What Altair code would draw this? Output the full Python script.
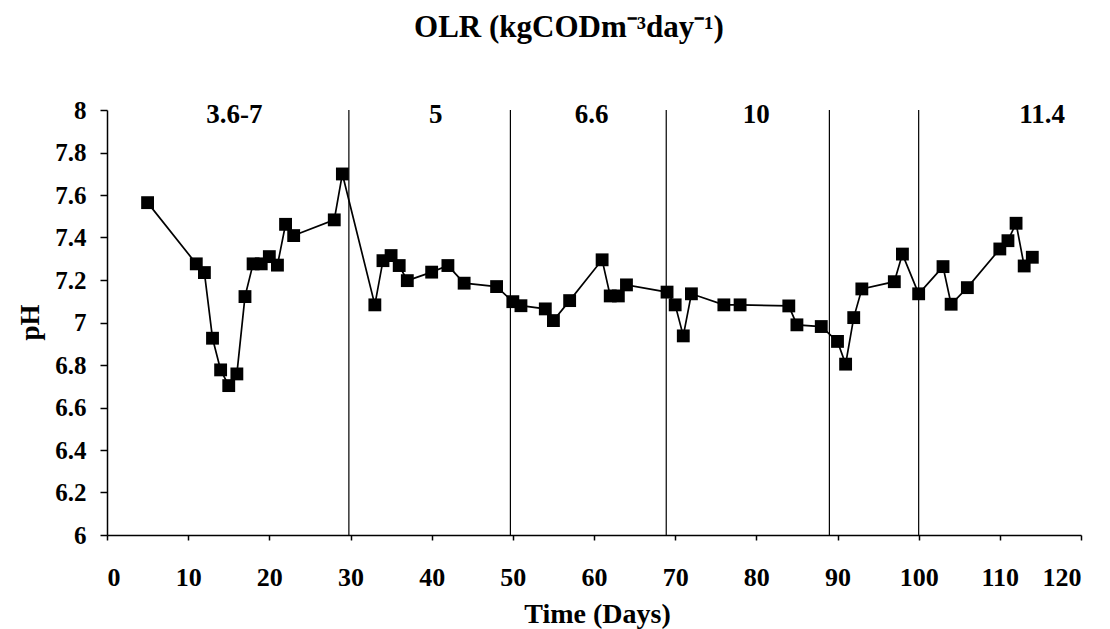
import altair as alt
import pandas as pd

# Time (days) and pH
days = [5, 11, 12, 13, 14, 15, 16, 17, 18, 19, 20, 21, 22, 23, 28, 29,
        33, 34, 35, 36, 37, 40, 42, 44, 48,
        50, 51, 54, 55, 57, 61, 62, 63, 64,
        69, 70, 71, 72, 76, 78, 84, 85, 88,
        90, 91, 92, 93, 97, 98,
        100, 103, 104, 106, 110, 111, 112, 113, 114]
ph = [7.564, 7.276, 7.235, 6.926, 6.777, 6.703, 6.758, 7.122, 7.276, 7.276, 7.310, 7.270, 7.462, 7.409, 7.483, 7.699,
      7.083, 7.291, 7.315, 7.268, 7.197, 7.237, 7.268, 7.185, 7.169,
      7.098, 7.079, 7.064, 7.009, 7.103, 7.295, 7.125, 7.125, 7.177,
      7.143, 7.083, 6.937, 7.135, 7.083, 7.083, 7.078, 6.989, 6.981,
      6.911, 6.804, 7.023, 7.158, 7.192, 7.322,
      7.135, 7.263, 7.086, 7.164, 7.346, 7.385, 7.467, 7.266, 7.307]

# OLR period boundaries (days) and period labels
period_bounds = [29.8, 49.7, 68.9, 89.0, 100.0]
olr_labels = ["3.6-7", "5", "6.6", "10", "11.4"]
olr_label_days = [15.7, 40.5, 59.7, 80.0, 115.2]
olr_label_ph = [7.975, 7.975, 7.975, 7.975, 7.975]

x_ticks = [0, 10, 20, 30, 40, 50, 60, 70, 80, 90, 100, 110, 120]
y_ticks = [6, 6.2, 6.4, 6.6, 6.8, 7, 7.2, 7.4, 7.6, 7.8, 8]

FONT = "Liberation Serif"

df = pd.DataFrame({"day": days, "ph": ph})
bounds_df = pd.DataFrame({"day": period_bounds, "lo": [6] * len(period_bounds), "hi": [8] * len(period_bounds)})
lab_df = pd.DataFrame({"day": olr_label_days, "ph": olr_label_ph, "label": olr_labels})

x_enc = alt.X(
    "day:Q",
    scale=alt.Scale(domain=[0, 120], nice=False, zero=False),
    axis=alt.Axis(
        values=x_ticks, format="~g", tickSize=5, labelPadding=24,
        labelFontSize=26, title="Time (Days)", titleFontSize=28,
        titleX=490, titleY=87, titleBaseline="alphabetic", titleAlign="center",
        grid=False,
    ),
)
y_enc = alt.Y(
    "ph:Q",
    scale=alt.Scale(domain=[6, 8], nice=False, zero=False),
    axis=alt.Axis(
        values=y_ticks, format="~g", tickSize=7, labelPadding=14,
        labelFontSize=25, title="pH", titleFontSize=27, titleAngle=270,
        titleX=-77, titleY=212, titleAlign="center", titleBaseline="middle",
        grid=False,
    ),
)

rules = alt.Chart(bounds_df).mark_rule(color="black", strokeWidth=1.2).encode(
    x=alt.X("day:Q"), y=alt.Y("lo:Q"), y2="hi:Q"
)

line = alt.Chart(df).mark_line(color="black", strokeWidth=1.7).encode(x=x_enc, y=y_enc)
points = alt.Chart(df).mark_point(
    shape="square", filled=True, size=165, color="black", opacity=1
).encode(x="day:Q", y="ph:Q")

labels = alt.Chart(lab_df).mark_text(
    font=FONT, fontSize=27, fontWeight="bold", color="black",
    align="center", baseline="middle",
).encode(x="day:Q", y="ph:Q", text="label:N")

chart = alt.layer(line, rules, points, labels).properties(
    width=974,
    height=425,
    background="white",
    autosize=alt.AutoSizeParams(type="none"),
    padding={"left": 99, "top": 102, "right": 20, "bottom": 110},
    title=alt.TitleParams(
        text="OLR (kgCODm⁻³day⁻¹)", font=FONT, fontSize=31, fontWeight="bold",
        anchor="middle", frame="group", baseline="alphabetic", offset=30, dx=-25,
        color="black",
    ),
).configure_view(stroke=None).configure_axis(
    grid=False, domainColor="black", domainWidth=1.5, tickColor="black",
    tickWidth=1.5, labelColor="black", labelFont=FONT, labelFontWeight="bold",
    titleColor="black", titleFont=FONT, titleFontWeight="bold",
)

chart.save("out.html", embed_options={"renderer": "svg", "actions": False})
